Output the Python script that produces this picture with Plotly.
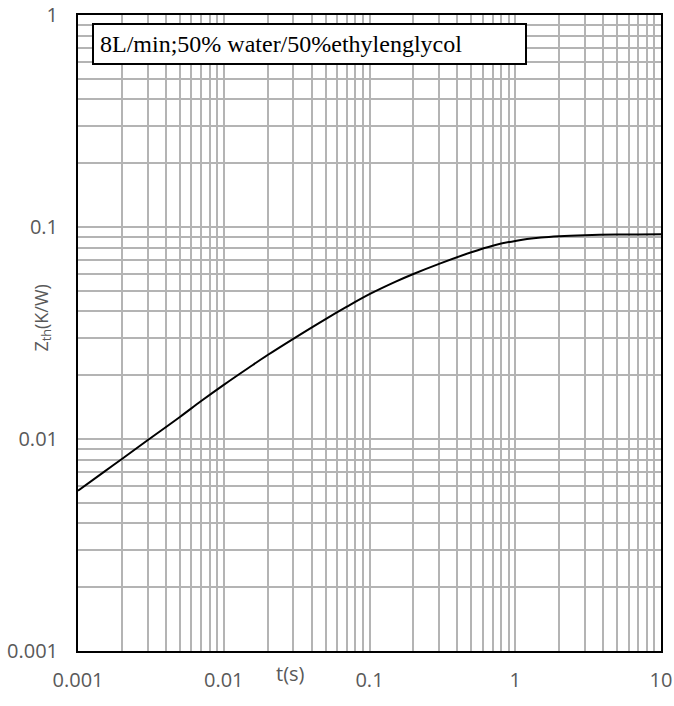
import plotly.graph_objects as go

# data (time in s, thermal impedance in K/W)
t_s = [0.001, 0.0015, 0.002, 0.003, 0.005, 0.007, 0.01, 0.015, 0.02, 0.03,
       0.05, 0.07, 0.1, 0.15, 0.2, 0.3, 0.5, 0.7, 1, 1.5, 2, 3, 5, 7, 10]
zth = [0.0057, 0.00698, 0.00805, 0.00986, 0.0127, 0.0151, 0.0180, 0.0218, 0.0249, 0.0297,
       0.0368, 0.0421, 0.0482, 0.0551, 0.0600, 0.0670, 0.0760, 0.0816, 0.0860, 0.0892,
       0.0905, 0.0915, 0.0921, 0.0923, 0.0924]

x_tickvals = [0.001, 0.01, 0.1, 1, 10]
x_ticktext = ["0.001", "0.01", "0.1", "1", "10"]
y_tickvals = [0.001, 0.01, 0.1, 1]
y_ticktext = ["0.001", "0.01", "0.1", "1"]

legend_text = "8L/min;50% water/50%ethylenglycol"

fig = go.Figure()
fig.add_trace(go.Scatter(x=t_s, y=zth, mode="lines",
                         line=dict(color="black", width=2, shape="spline", smoothing=1.0),
                         showlegend=False, hoverinfo="skip"))

grid_col = "#b4b4b4"
tick_font = dict(family="Open Sans, sans-serif", size=20, color="#595959")

fig.update_xaxes(type="log", range=[-3, 1], tickvals=x_tickvals, ticktext=x_ticktext,
                 showgrid=True, gridcolor=grid_col, gridwidth=1.5,
                 minor=dict(showgrid=True, gridcolor=grid_col, gridwidth=1.5, dtick="D1", ticks=""),
                 showline=True, mirror=True, linecolor="black", linewidth=2,
                 ticks="", tickfont=tick_font, ticklabelstandoff=10, zeroline=False,
                 automargin=False)
fig.update_yaxes(type="log", range=[-3, 0], tickvals=y_tickvals, ticktext=y_ticktext,
                 showgrid=True, gridcolor=grid_col, gridwidth=1.5,
                 minor=dict(showgrid=True, gridcolor=grid_col, gridwidth=1.5, dtick="D1", ticks=""),
                 showline=True, mirror=True, linecolor="black", linewidth=2,
                 ticks="", tickfont=tick_font, ticklabelstandoff=14, zeroline=False,
                 automargin=False)

fig.add_annotation(x=(290 - 78) / 583, y=-(689 - 651) / 636, xref="paper", yref="paper",
                   text="t(s)", showarrow=False,
                   font=dict(family="Open Sans, sans-serif", size=20, color="#595959"))
fig.add_annotation(x=-(78 - 27) / 583, y=1 - (318 - 15) / 636, xref="paper", yref="paper",
                   text="Z<sub>th</sub>(K/W)", textangle=-90, showarrow=False,
                   font=dict(family="Open Sans, sans-serif", size=18, color="#595959"))

fig.add_annotation(x=(92 - 78) / 583, y=1 - (23 - 15) / 636, xref="paper", yref="paper",
                   xanchor="left", yanchor="top", align="left",
                   text=legend_text, showarrow=False,
                   bgcolor="white", bordercolor="black", borderwidth=2,
                   borderpad=6, width=419,
                   font=dict(family="Liberation Serif, Times New Roman, serif", size=24, color="black"))

fig.update_layout(width=674, height=706, margin=dict(l=78, r=13, t=15, b=55),
                  plot_bgcolor="white", paper_bgcolor="white")

fig.write_html("out.html", config={"displayModeBar": False},
               post_script="document.body.style.margin='0';document.body.style.overflow='hidden';")
